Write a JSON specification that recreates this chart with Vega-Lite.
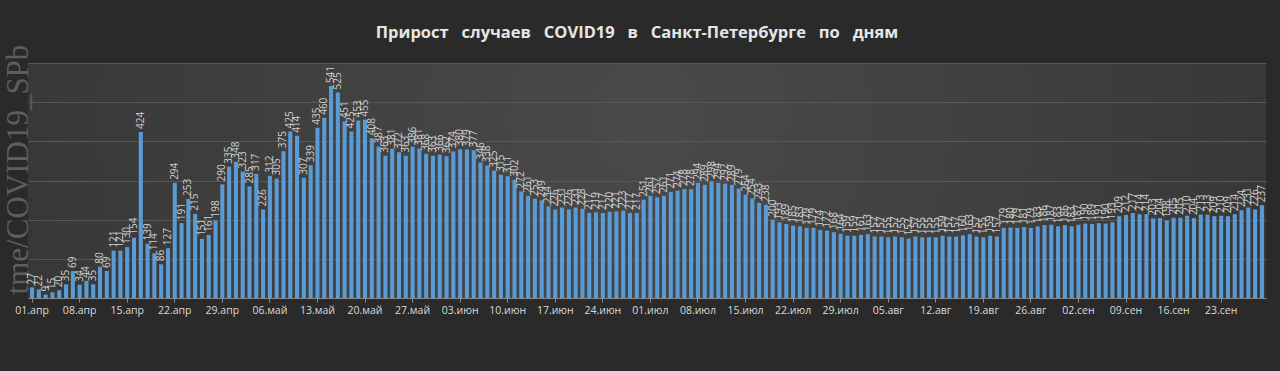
{
  "$schema": "https://vega.github.io/schema/vega-lite/v6.json",
  "autosize": {"type": "none"},
  "width": 1238,
  "height": 235,
  "padding": {"left": 28, "top": 63, "right": 14, "bottom": 73},
  "background": "#2a2a2a",
  "title": {
    "text": "Прирост \u00a0\u00a0случаев \u00a0\u00a0COVID19 \u00a0\u00a0в \u00a0\u00a0Санкт-Петербурге \u00a0\u00a0по \u00a0\u00a0дням",
    "font": "Open Sans",
    "fontSize": 16.5,
    "fontWeight": "bold",
    "color": "#e6e6e6",
    "anchor": "middle",
    "frame": "group",
    "dx": -10,
    "offset": 3
  },
  "config": {
    "view": {"stroke": null, "fill": {"gradient": "radial", "x1": 0.5, "y1": 0.45, "r1": 0, "x2": 0.5, "y2": 0.45, "r2": 0.75, "stops": [{"offset": 0, "color": "#4a4a4a"}, {"offset": 1, "color": "#2f2f2f"}]}}
  },
  "data": {
    "values": [
      {"d":"2020-04-01","v":27},{"d":"2020-04-02","v":22},{"d":"2020-04-03","v":9},{"d":"2020-04-04","v":15},{"d":"2020-04-05","v":20},{"d":"2020-04-06","v":35},{"d":"2020-04-07","v":69},{"d":"2020-04-08","v":34},{"d":"2020-04-09","v":44},{"d":"2020-04-10","v":35},
      {"d":"2020-04-11","v":80},{"d":"2020-04-12","v":69},{"d":"2020-04-13","v":121},{"d":"2020-04-14","v":121},{"d":"2020-04-15","v":130},{"d":"2020-04-16","v":154},{"d":"2020-04-17","v":424},{"d":"2020-04-18","v":139},{"d":"2020-04-19","v":114},{"d":"2020-04-20","v":86},
      {"d":"2020-04-21","v":127},{"d":"2020-04-22","v":294},{"d":"2020-04-23","v":191},{"d":"2020-04-24","v":253},{"d":"2020-04-25","v":215},{"d":"2020-04-26","v":151},{"d":"2020-04-27","v":161},{"d":"2020-04-28","v":198},{"d":"2020-04-29","v":290},{"d":"2020-04-30","v":335},
      {"d":"2020-05-01","v":348},{"d":"2020-05-02","v":323},{"d":"2020-05-03","v":285},{"d":"2020-05-04","v":317},{"d":"2020-05-05","v":226},{"d":"2020-05-06","v":312},{"d":"2020-05-07","v":305},{"d":"2020-05-08","v":375},{"d":"2020-05-09","v":425},{"d":"2020-05-10","v":414},
      {"d":"2020-05-11","v":307},{"d":"2020-05-12","v":339},{"d":"2020-05-13","v":435},{"d":"2020-05-14","v":460},{"d":"2020-05-15","v":541},{"d":"2020-05-16","v":525},{"d":"2020-05-17","v":451},{"d":"2020-05-18","v":425},{"d":"2020-05-19","v":453},{"d":"2020-05-20","v":455},
      {"d":"2020-05-21","v":408},{"d":"2020-05-22","v":387},{"d":"2020-05-23","v":363},{"d":"2020-05-24","v":381},{"d":"2020-05-25","v":372},{"d":"2020-05-26","v":363},{"d":"2020-05-27","v":386},{"d":"2020-05-28","v":381},{"d":"2020-05-29","v":368},{"d":"2020-05-30","v":363},{"d":"2020-05-31","v":366},
      {"d":"2020-06-01","v":362},{"d":"2020-06-02","v":374},{"d":"2020-06-03","v":380},{"d":"2020-06-04","v":379},{"d":"2020-06-05","v":377},{"d":"2020-06-06","v":346},{"d":"2020-06-07","v":338},{"d":"2020-06-08","v":325},{"d":"2020-06-09","v":315},{"d":"2020-06-10","v":311},
      {"d":"2020-06-11","v":302},{"d":"2020-06-12","v":272},{"d":"2020-06-13","v":261},{"d":"2020-06-14","v":253},{"d":"2020-06-15","v":249},{"d":"2020-06-16","v":234},{"d":"2020-06-17","v":226},{"d":"2020-06-18","v":231},{"d":"2020-06-19","v":226},{"d":"2020-06-20","v":231},
      {"d":"2020-06-21","v":228},{"d":"2020-06-22","v":217},{"d":"2020-06-23","v":219},{"d":"2020-06-24","v":217},{"d":"2020-06-25","v":220},{"d":"2020-06-26","v":221},{"d":"2020-06-27","v":223},{"d":"2020-06-28","v":217},{"d":"2020-06-29","v":217},{"d":"2020-06-30","v":251},
      {"d":"2020-07-01","v":261},{"d":"2020-07-02","v":257},{"d":"2020-07-03","v":261},{"d":"2020-07-04","v":271},{"d":"2020-07-05","v":274},{"d":"2020-07-06","v":278},{"d":"2020-07-07","v":278},{"d":"2020-07-08","v":294},{"d":"2020-07-09","v":289},{"d":"2020-07-10","v":298},
      {"d":"2020-07-11","v":294},{"d":"2020-07-12","v":292},{"d":"2020-07-13","v":289},{"d":"2020-07-14","v":279},{"d":"2020-07-15","v":264},{"d":"2020-07-16","v":254},{"d":"2020-07-17","v":243},{"d":"2020-07-18","v":238},{"d":"2020-07-19","v":200},{"d":"2020-07-20","v":193},
      {"d":"2020-07-21","v":189},{"d":"2020-07-22","v":185},{"d":"2020-07-23","v":183},{"d":"2020-07-24","v":179},{"d":"2020-07-25","v":179},{"d":"2020-07-26","v":174},{"d":"2020-07-27","v":172},{"d":"2020-07-28","v":168},{"d":"2020-07-29","v":164},{"d":"2020-07-30","v":159},{"d":"2020-07-31","v":159},
      {"d":"2020-08-01","v":161},{"d":"2020-08-02","v":163},{"d":"2020-08-03","v":157},{"d":"2020-08-04","v":157},{"d":"2020-08-05","v":155},{"d":"2020-08-06","v":157},{"d":"2020-08-07","v":155},{"d":"2020-08-08","v":152},{"d":"2020-08-09","v":157},{"d":"2020-08-10","v":155},
      {"d":"2020-08-11","v":155},{"d":"2020-08-12","v":155},{"d":"2020-08-13","v":159},{"d":"2020-08-14","v":157},{"d":"2020-08-15","v":157},{"d":"2020-08-16","v":160},{"d":"2020-08-17","v":163},{"d":"2020-08-18","v":157},{"d":"2020-08-19","v":155},{"d":"2020-08-20","v":159},
      {"d":"2020-08-21","v":157},{"d":"2020-08-22","v":179},{"d":"2020-08-23","v":180},{"d":"2020-08-24","v":179},{"d":"2020-08-25","v":181},{"d":"2020-08-26","v":179},{"d":"2020-08-27","v":183},{"d":"2020-08-28","v":186},{"d":"2020-08-29","v":187},{"d":"2020-08-30","v":183},{"d":"2020-08-31","v":186},
      {"d":"2020-09-01","v":183},{"d":"2020-09-02","v":187},{"d":"2020-09-03","v":190},{"d":"2020-09-04","v":189},{"d":"2020-09-05","v":191},{"d":"2020-09-06","v":190},{"d":"2020-09-07","v":193},{"d":"2020-09-08","v":209},{"d":"2020-09-09","v":212},{"d":"2020-09-10","v":217},
      {"d":"2020-09-11","v":214},{"d":"2020-09-12","v":214},{"d":"2020-09-13","v":203},{"d":"2020-09-14","v":204},{"d":"2020-09-15","v":198},{"d":"2020-09-16","v":205},{"d":"2020-09-17","v":205},{"d":"2020-09-18","v":210},{"d":"2020-09-19","v":204},{"d":"2020-09-20","v":213},
      {"d":"2020-09-21","v":213},{"d":"2020-09-22","v":209},{"d":"2020-09-23","v":210},{"d":"2020-09-24","v":209},{"d":"2020-09-25","v":214},{"d":"2020-09-26","v":224},{"d":"2020-09-27","v":231},{"d":"2020-09-28","v":226},{"d":"2020-09-29","v":237}
    ]
  },
  "encoding": {
    "x": {
      "field": "d",
      "type": "ordinal",
      "scale": {"paddingInner": 0.4, "paddingOuter": 0.3},
      "axis": {
        "title": null,
        "values": ["2020-04-01","2020-04-08","2020-04-15","2020-04-22","2020-04-29","2020-05-06","2020-05-13","2020-05-20","2020-05-27","2020-06-03","2020-06-10","2020-06-17","2020-06-24","2020-07-01","2020-07-08","2020-07-15","2020-07-22","2020-07-29","2020-08-05","2020-08-12","2020-08-19","2020-08-26","2020-09-02","2020-09-09","2020-09-16","2020-09-23"],
        "labelExpr": "slice(datum.value,8,10) + '.' + ['янв','фев','мар','апр','май','июн','июл','авг','сен','окт','ноя','дек'][toNumber(slice(datum.value,5,7))-1]",
        "labelAngle": 0,
        "labelColor": "#d9d9d9",
        "labelFont": "Open Sans",
        "labelFontSize": 10.5,
        "labelPadding": 3,
        "tickSize": 4,
        "tickColor": "#8a8a8a",
        "domainColor": "#8a8a8a",
        "grid": false
      }
    },
    "y": {
      "field": "v",
      "type": "quantitative",
      "scale": {"domain": [0, 600], "nice": false},
      "axis": {
        "title": "tme/COVID19_SPb",
        "titleFont": "Liberation Serif",
        "titleFontSize": 31,
        "titleFontWeight": "normal",
        "titleColor": "#5e5e5e",
        "titleX": -10,
        "titleY": 106,
        "titleBaseline": "middle",
        "titleAngle": 270,
        "values": [100, 200, 300, 400, 500, 600],
        "labels": false,
        "ticks": false,
        "domain": false,
        "grid": true,
        "gridColor": "#585858",
        "gridWidth": 1
      }
    }
  },
  "layer": [
    {"mark": {"type": "bar", "color": "#5b9bd5"}},
    {
      "mark": {"type": "text", "angle": 270, "align": "left", "baseline": "middle", "dx": 3, "font": "Open Sans", "fontSize": 10, "color": "#d0d0d0"},
      "encoding": {"text": {"field": "v", "type": "quantitative"}}
    }
  ]
}
